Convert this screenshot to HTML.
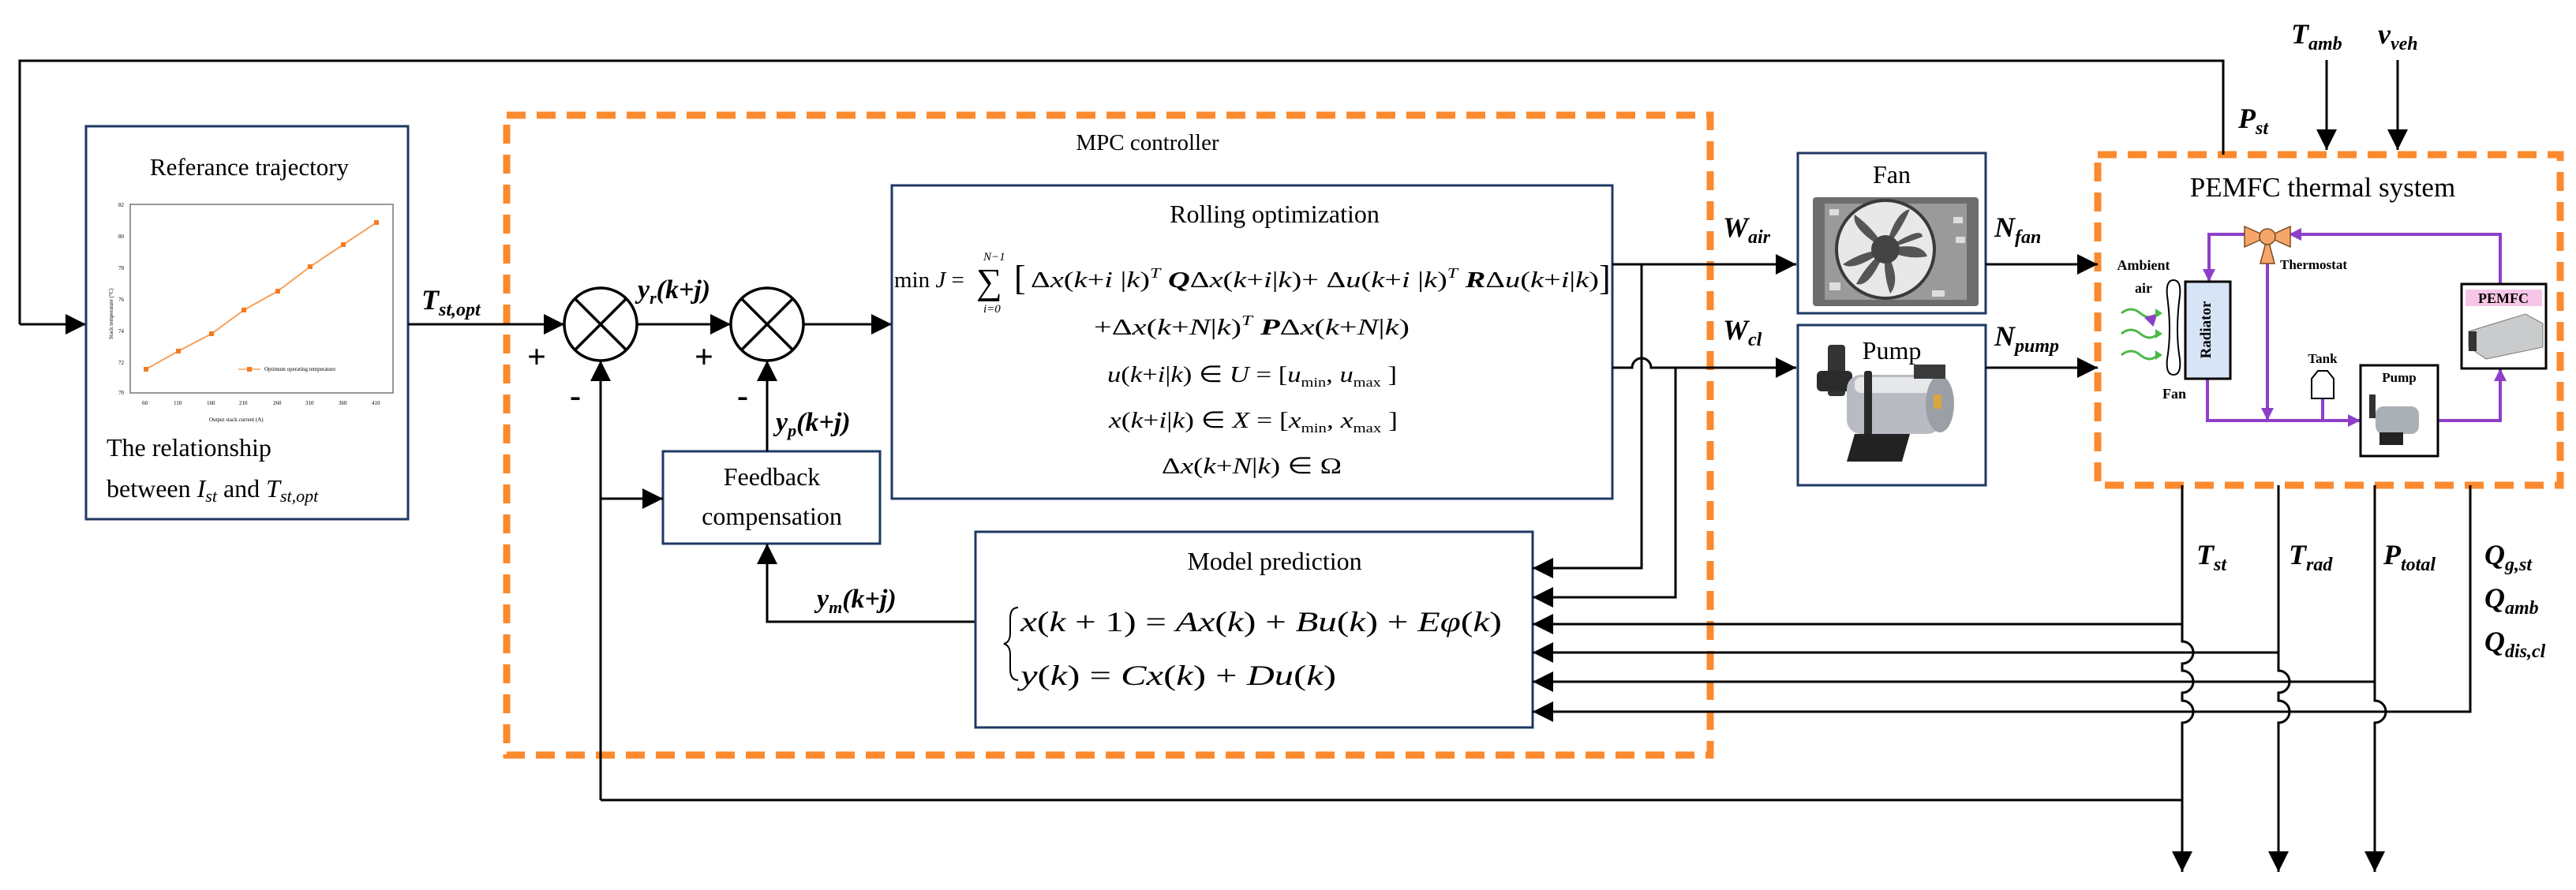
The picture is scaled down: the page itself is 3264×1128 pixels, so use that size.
<!DOCTYPE html>
<html><head><meta charset="utf-8"><style>
html,body{margin:0;padding:0;background:#fff;}
svg{display:block;}
text{font-family:"Liberation Serif",serif;fill:#000;}
.bi{font-weight:bold;font-style:italic;}
.it{font-style:italic;}
</style></head><body>
<svg width="3264" height="1128" viewBox="0 0 3264 1128" xmlns="http://www.w3.org/2000/svg">
<defs>
<marker id="ar" markerWidth="10" markerHeight="10" refX="9" refY="5" orient="auto" markerUnits="userSpaceOnUse" viewBox="0 0 10 10"><path d="M0,0 L10,5 L0,10 z" fill="#000"/></marker>
<marker id="ah" viewBox="0 0 10 10" refX="10" refY="5" markerWidth="26" markerHeight="26" orient="auto" markerUnits="userSpaceOnUse"><path d="M0,0 L10,5 L0,10 z" fill="#000"/></marker>
<marker id="ap" viewBox="0 0 10 10" refX="10" refY="5" markerWidth="16" markerHeight="16" orient="auto" markerUnits="userSpaceOnUse"><path d="M0,0 L10,5 L0,10 z" fill="#8e3fc8"/></marker>
</defs>

<!-- Orange dashed boxes -->
<rect x="642" y="146" width="1525" height="811" fill="none" stroke="#fb8a2e" stroke-width="9" stroke-dasharray="24 14"/>
<rect x="2658" y="196" width="586" height="419" fill="none" stroke="#fb8a2e" stroke-width="9" stroke-dasharray="24 14"/>

<!-- Top feedback line -->
<polyline points="2817,196 2817,77 25,77 25,411" fill="none" stroke="#000" stroke-width="3"/>
<line x1="25" y1="411" x2="109" y2="411" stroke="#000" stroke-width="3" marker-end="url(#ah)"/>

<!-- Reference trajectory box -->
<rect x="109" y="160" width="408" height="498" fill="#fff" stroke="#1f3864" stroke-width="3"/>
<text x="316" y="222" font-size="31" text-anchor="middle">Referance trajectory</text>
<rect x="165" y="259" width="333" height="239" fill="#fff" stroke="#777" stroke-width="1.5"/>
<g font-size="7" fill="#444">
<text x="150" y="262">82</text><text x="150" y="302">80</text><text x="150" y="342">78</text><text x="150" y="382">76</text><text x="150" y="422">74</text><text x="150" y="462">72</text><text x="150" y="500">70</text>
<text x="180" y="513">60</text><text x="220" y="513">110</text><text x="262" y="513">160</text><text x="303" y="513">210</text><text x="346" y="513">260</text><text x="387" y="513">310</text><text x="429" y="513">360</text><text x="471" y="513">410</text>
<text x="265" y="534">Output stack current (A)</text>
<text x="143" y="430" transform="rotate(-90 143 430)">Stack temperature (°C)</text>
<text x="335" y="470">Optimum operating temperature</text>
</g>
<line x1="302" y1="468" x2="330" y2="468" stroke="#f7a15a" stroke-width="1.5"/>
<polyline points="185,468 226,445 268,423 309,393 352,369 393,338 435,310 477,282" fill="none" stroke="#f7a15a" stroke-width="2"/>
<g fill="#f47a20"><rect x="182" y="465" width="6" height="6"/><rect x="223" y="442" width="6" height="6"/><rect x="265" y="420" width="6" height="6"/><rect x="306" y="390" width="6" height="6"/><rect x="349" y="366" width="6" height="6"/><rect x="390" y="335" width="6" height="6"/><rect x="432" y="307" width="6" height="6"/><rect x="474" y="279" width="6" height="6"/><rect x="313" y="465" width="6" height="6"/></g>
<text x="135" y="578" font-size="32">The relationship</text>
<text x="135" y="630" font-size="32">between <tspan class="it">I</tspan><tspan class="it" font-size="22" dy="6">st</tspan><tspan dy="-6"> and </tspan><tspan class="it">T</tspan><tspan class="it" font-size="22" dy="6">st,opt</tspan></text>

<!-- T_st,opt -->
<text x="534" y="392" font-size="36" class="bi">T<tspan font-size="24" dy="8">st,opt</tspan></text>
<line x1="517" y1="411" x2="715" y2="411" stroke="#000" stroke-width="3" marker-end="url(#ah)"/>

<!-- Summing junctions -->
<g fill="#fff" stroke="#000" stroke-width="3.5">
<circle cx="761" cy="411" r="46"/><circle cx="972" cy="411" r="46"/></g>
<g stroke="#000" stroke-width="3.5">
<line x1="728" y1="378" x2="794" y2="444"/><line x1="794" y1="378" x2="728" y2="444"/>
<line x1="939" y1="378" x2="1005" y2="444"/><line x1="1005" y1="378" x2="939" y2="444"/></g>
<text x="668" y="466" font-size="42" font-weight="bold">+</text>
<text x="880" y="466" font-size="42" font-weight="bold">+</text>
<text x="722" y="515" font-size="42" font-weight="bold">-</text>
<text x="934" y="515" font-size="42" font-weight="bold">-</text>
<line x1="807" y1="411" x2="926" y2="411" stroke="#000" stroke-width="3" marker-end="url(#ah)"/>
<text x="808" y="378" font-size="34" class="bi">y<tspan font-size="22" dy="7">r</tspan><tspan dy="-7">(k+j)</tspan></text>
<line x1="1018" y1="411" x2="1130" y2="411" stroke="#000" stroke-width="3" marker-end="url(#ah)"/>

<!-- Feedback compensation -->
<rect x="840" y="572" width="275" height="117" fill="#fff" stroke="#1f3864" stroke-width="3"/>
<text x="978" y="615" font-size="32" text-anchor="middle">Feedback</text>
<text x="978" y="665" font-size="32" text-anchor="middle">compensation</text>
<line x1="972" y1="572" x2="972" y2="457" stroke="#000" stroke-width="3" marker-end="url(#ah)"/>
<text x="983" y="546" font-size="34" class="bi">y<tspan font-size="22" dy="7">p</tspan><tspan dy="-7">(k+j)</tspan></text>
<line x1="761" y1="1014" x2="761" y2="457" stroke="#000" stroke-width="3" marker-end="url(#ah)"/>
<line x1="761" y1="632" x2="840" y2="632" stroke="#000" stroke-width="3" marker-end="url(#ah)"/>
<polyline points="1236,788 972,788 972,689" fill="none" stroke="#000" stroke-width="3" marker-end="url(#ah)"/>
<text x="1035" y="770" font-size="34" class="bi">y<tspan font-size="22" dy="7">m</tspan><tspan dy="-7">(k+j)</tspan></text>

<!-- MPC label -->
<text x="1454" y="190" font-size="29" text-anchor="middle">MPC controller</text>

<!-- Rolling optimization -->
<rect x="1130" y="235" width="913" height="397" fill="#fff" stroke="#1f3864" stroke-width="3"/>
<text x="1615" y="282" font-size="32" text-anchor="middle">Rolling  optimization</text>
<g font-size="29">
<text x="1133" y="364">min <tspan class="it">J</tspan> =</text>
<text x="1237" y="372" font-size="46">∑</text>
<text x="1246" y="330" font-size="15" class="it">N−1</text>
<text x="1246" y="396" font-size="15" class="it">i=0</text>
<text x="1285" y="367" font-size="44" font-weight="100">[</text>
<text x="1306" y="364" textLength="720" lengthAdjust="spacingAndGlyphs">Δ<tspan class="it">x</tspan>(<tspan class="it">k</tspan>+<tspan class="it">i</tspan> |<tspan class="it">k</tspan>)<tspan class="it" font-size="18" dy="-12">T</tspan><tspan class="bi" dy="12"> Q</tspan>Δ<tspan class="it">x</tspan>(<tspan class="it">k</tspan>+<tspan class="it">i</tspan>|<tspan class="it">k</tspan>)+ Δ<tspan class="it">u</tspan>(<tspan class="it">k</tspan>+<tspan class="it">i</tspan> |<tspan class="it">k</tspan>)<tspan class="it" font-size="18" dy="-12">T</tspan><tspan class="bi" dy="12"> R</tspan>Δ<tspan class="it">u</tspan>(<tspan class="it">k</tspan>+<tspan class="it">i</tspan>|<tspan class="it">k</tspan>)</text>
<text x="2026" y="367" font-size="44" font-weight="100">]</text>
<text x="1386" y="424" textLength="400" lengthAdjust="spacingAndGlyphs">+Δ<tspan class="it">x</tspan>(<tspan class="it">k</tspan>+<tspan class="it">N</tspan>|<tspan class="it">k</tspan>)<tspan class="it" font-size="18" dy="-12">T</tspan><tspan class="bi" dy="12"> P</tspan>Δ<tspan class="it">x</tspan>(<tspan class="it">k</tspan>+<tspan class="it">N</tspan>|<tspan class="it">k</tspan>)</text>
<text x="1403" y="484" textLength="367" lengthAdjust="spacingAndGlyphs"><tspan class="it">u</tspan>(<tspan class="it">k</tspan>+<tspan class="it">i</tspan>|<tspan class="it">k</tspan>) ∈ <tspan class="it">U</tspan> = [<tspan class="it">u</tspan><tspan font-size="17" dy="6">min</tspan><tspan dy="-6">, </tspan><tspan class="it">u</tspan><tspan font-size="17" dy="6">max</tspan><tspan dy="-6"> ]</tspan></text>
<text x="1405" y="542" textLength="366" lengthAdjust="spacingAndGlyphs"><tspan class="it">x</tspan>(<tspan class="it">k</tspan>+<tspan class="it">i</tspan>|<tspan class="it">k</tspan>) ∈ <tspan class="it">X</tspan> = [<tspan class="it">x</tspan><tspan font-size="17" dy="6">min</tspan><tspan dy="-6">, </tspan><tspan class="it">x</tspan><tspan font-size="17" dy="6">max</tspan><tspan dy="-6"> ]</tspan></text>
<text x="1472" y="600" textLength="228" lengthAdjust="spacingAndGlyphs">Δ<tspan class="it">x</tspan>(<tspan class="it">k</tspan>+<tspan class="it">N</tspan>|<tspan class="it">k</tspan>) ∈ Ω</text>
</g>

<!-- Model prediction -->
<rect x="1236" y="674" width="706" height="248" fill="#fff" stroke="#1f3864" stroke-width="3"/>
<text x="1615" y="722" font-size="32" text-anchor="middle">Model prediction</text>
<path d="M1290,770 q-10,0 -10,14 v18 q0,12 -8,14 q8,2 8,14 v18 q0,14 10,14" fill="none" stroke="#000" stroke-width="2"/>
<text x="1293" y="800" font-size="36" textLength="610" lengthAdjust="spacingAndGlyphs"><tspan class="it">x</tspan>(<tspan class="it">k</tspan> + 1) = <tspan class="it">Ax</tspan>(<tspan class="it">k</tspan>) + <tspan class="it">Bu</tspan>(<tspan class="it">k</tspan>) + <tspan class="it">Eφ</tspan>(<tspan class="it">k</tspan>)</text>
<text x="1293" y="868" font-size="36" textLength="400" lengthAdjust="spacingAndGlyphs"><tspan class="it">y</tspan>(<tspan class="it">k</tspan>) = <tspan class="it">Cx</tspan>(<tspan class="it">k</tspan>) + <tspan class="it">Du</tspan>(<tspan class="it">k</tspan>)</text>

<!-- Rolling outputs -->
<line x1="2043" y1="335" x2="2276" y2="335" stroke="#000" stroke-width="3" marker-end="url(#ah)"/>
<path d="M2043,466 H2068 A12,12 0 0 1 2092,466 H2276" fill="none" stroke="#000" stroke-width="3" marker-end="url(#ah)"/>
<polyline points="2080,335 2080,720 1942,720" fill="none" stroke="#000" stroke-width="3" marker-end="url(#ah)"/>
<polyline points="2123,466 2123,757 1942,757" fill="none" stroke="#000" stroke-width="3" marker-end="url(#ah)"/>
<text x="2183" y="300" font-size="36" class="bi">W<tspan font-size="24" dy="8">air</tspan></text>
<text x="2183" y="430" font-size="36" class="bi">W<tspan font-size="24" dy="8">cl</tspan></text>

<!-- Fan box -->
<rect x="2278" y="194" width="238" height="203" fill="#fff" stroke="#1f3864" stroke-width="3"/>
<text x="2397" y="232" font-size="32" text-anchor="middle">Fan</text>
<rect x="2297" y="250" width="210" height="138" fill="#6d6d6d" rx="4"/>
<rect x="2312" y="258" width="180" height="122" fill="#9a9a9a"/>
<circle cx="2389" cy="316" r="62" fill="#e8e8e8" stroke="#3a3a3a" stroke-width="4"/>
<g fill="#555">
<path d="M2389,316 Q2400,270 2420,265 Q2410,290 2389,316z"/>
<path d="M2389,316 Q2435,305 2442,325 Q2415,330 2389,316z"/>
<path d="M2389,316 Q2410,355 2395,372 Q2385,345 2389,316z"/>
<path d="M2389,316 Q2350,345 2335,335 Q2360,318 2389,316z"/>
<path d="M2389,316 Q2345,290 2350,272 Q2375,290 2389,316z"/>
<path d="M2389,316 Q2370,365 2352,360 Q2365,335 2389,316z"/>
<path d="M2389,316 Q2435,285 2436,300 Q2410,310 2389,316z"/>
</g>
<circle cx="2389" cy="316" r="18" fill="#444"/>
<g fill="#ddd"><rect x="2318" y="265" width="12" height="8"/><rect x="2475" y="275" width="12" height="8"/><rect x="2478" y="300" width="12" height="8"/><rect x="2318" y="358" width="14" height="10"/><rect x="2448" y="368" width="16" height="8"/></g>

<!-- Pump box -->
<rect x="2278" y="412" width="238" height="203" fill="#fff" stroke="#1f3864" stroke-width="3"/>
<text x="2397" y="455" font-size="32" text-anchor="middle">Pump</text>
<rect x="2316" y="437" width="22" height="65" fill="#333" rx="4"/>
<rect x="2302" y="470" width="45" height="26" fill="#2b2b2b" rx="6"/>
<rect x="2340" y="475" width="120" height="75" fill="#b8bcc2" rx="18"/>
<rect x="2350" y="478" width="100" height="20" fill="#e6e8ea" rx="8"/>
<rect x="2362" y="470" width="10" height="88" fill="#2a2a2a" rx="3"/>
<ellipse cx="2458" cy="512" rx="18" ry="36" fill="#9aa0a6"/>
<rect x="2450" y="500" width="10" height="18" fill="#d9a441"/>
<polygon points="2350,550 2420,550 2410,585 2340,585" fill="#222"/>
<rect x="2425" y="462" width="40" height="18" fill="#3a3a3a"/>

<!-- Fan/pump to PEMFC -->
<line x1="2516" y1="335" x2="2658" y2="335" stroke="#000" stroke-width="3" marker-end="url(#ah)"/>
<line x1="2516" y1="466" x2="2658" y2="466" stroke="#000" stroke-width="3" marker-end="url(#ah)"/>
<text x="2527" y="300" font-size="36" class="bi">N<tspan font-size="24" dy="8">fan</tspan></text>
<text x="2527" y="438" font-size="36" class="bi">N<tspan font-size="24" dy="8">pump</tspan></text>

<!-- External inputs -->
<text x="2903" y="55" font-size="36" class="bi">T<tspan font-size="24" dy="8">amb</tspan></text>
<text x="3013" y="55" font-size="36" class="bi">v<tspan font-size="24" dy="8">veh</tspan></text>
<line x1="2948" y1="76" x2="2948" y2="190" stroke="#000" stroke-width="3" marker-end="url(#ah)"/>
<line x1="3038" y1="76" x2="3038" y2="190" stroke="#000" stroke-width="3" marker-end="url(#ah)"/>
<text x="2836" y="162" font-size="36" class="bi">P<tspan font-size="24" dy="8">st</tspan></text>

<!-- PEMFC thermal system internals -->
<text x="2943" y="249" font-size="35" text-anchor="middle">PEMFC thermal  system</text>
<g stroke="#8e3fc8" stroke-width="4" fill="none">
<polyline points="3168,360 3168,297 2905,297"/>
<line x1="2990" y1="297" x2="2900" y2="297" marker-end="url(#ap)"/>
<polyline points="2850,297 2799,297 2799,357" marker-end="url(#ap)"/>
<line x1="2873" y1="330" x2="2873" y2="533" marker-end="url(#ap)"/>
<polyline points="2797,480 2797,533 2991,533" marker-end="url(#ap)"/>
<line x1="2943" y1="505" x2="2943" y2="533"/>
<polyline points="3089,533 3168,533 3168,467" marker-end="url(#ap)"/>
</g>
<!-- thermostat valve -->
<g fill="#f7a66a" stroke="#7a4a20" stroke-width="1.5">
<polygon points="2844,287 2844,313 2873,300"/>
<polygon points="2902,287 2902,313 2873,300"/>
<polygon points="2864,334 2882,334 2873,300"/>
<circle cx="2873" cy="300" r="10"/>
</g>
<text x="2889" y="341" font-size="17" font-weight="bold">Thermostat</text>
<text x="2716" y="342" font-size="18" font-weight="bold" text-anchor="middle">Ambient</text>
<text x="2716" y="371" font-size="18" font-weight="bold" text-anchor="middle">air</text>
<g stroke="#4cb848" stroke-width="3" fill="none">
<path d="M2688,397 q12,-10 24,0 t22,0" marker-end="url(#ap)"/>
<path d="M2688,423 q12,-10 24,0 t22,0"/>
<path d="M2688,450 q12,-10 24,0 t22,0"/>
</g>
<g fill="#4cb848"><polygon points="2740,397 2731,391 2731,403"/><polygon points="2740,423 2731,417 2731,429"/><polygon points="2740,450 2731,444 2731,456"/></g>
<path d="M2754,355 q10,0 8,20 q-6,45 0,80 q2,20 -8,20 q-10,0 -8,-20 q6,-35 0,-80 q-2,-20 8,-20z" fill="#fff" stroke="#000" stroke-width="2"/>
<text x="2755" y="505" font-size="18" font-weight="bold" text-anchor="middle">Fan</text>
<rect x="2769" y="357" width="57" height="123" fill="#d6e4f5" stroke="#000" stroke-width="3"/>
<text x="2803" y="418" font-size="19" font-weight="bold" text-anchor="middle" transform="rotate(-90 2803 418)" dy="-2">Radiator</text>
<text x="2943" y="460" font-size="17" font-weight="bold" text-anchor="middle">Tank</text>
<path d="M2929,505 v-25 l8,-10 h12 l8,10 v25z" fill="#fff" stroke="#000" stroke-width="2"/>
<rect x="2991" y="463" width="98" height="115" fill="#fff" stroke="#000" stroke-width="3"/>
<text x="3040" y="484" font-size="17" font-weight="bold" text-anchor="middle">Pump</text>
<rect x="3002" y="500" width="8" height="30" fill="#333"/>
<rect x="3010" y="515" width="55" height="35" fill="#aab0b6" rx="10"/>
<rect x="3015" y="548" width="30" height="16" fill="#222"/>
<rect x="3119" y="360" width="107" height="107" fill="#fff" stroke="#000" stroke-width="3"/>
<rect x="3124" y="367" width="97" height="21" fill="#f7c6e6"/>
<text x="3172" y="384" font-size="18" font-weight="bold" text-anchor="middle">PEMFC</text>
<polygon points="3128,420 3200,398 3222,410 3222,440 3150,455 3128,440" fill="#c9cbcd" stroke="#777"/>
<rect x="3128" y="420" width="10" height="25" fill="#333"/>

<!-- Measured outputs -->
<g stroke="#000" stroke-width="3" fill="none">
<path d="M2765,615 V791 H1942" marker-end="url(#ah)"/>
<path d="M2887,615 V827 H1942" marker-end="url(#ah)"/>
<path d="M3009,615 V864 H1942" marker-end="url(#ah)"/>
<path d="M3130,615 V902 H1942" marker-end="url(#ah)"/>
<!-- T_st downward with hops -->
<path d="M2765,791 V813 A14,14 0 0 1 2765,841 V850 A14,14 0 0 1 2765,878 V888 A14,14 0 0 1 2765,916 V1105" marker-end="url(#ah)"/>
<path d="M2887,827 V850 A14,14 0 0 1 2887,878 V888 A14,14 0 0 1 2887,916 V1105" marker-end="url(#ah)"/>
<path d="M3009,864 V888 A14,14 0 0 1 3009,916 V1105" marker-end="url(#ah)"/>
<line x1="761" y1="1014" x2="2765" y2="1014"/>
</g>
<text x="2783" y="715" font-size="36" class="bi">T<tspan font-size="24" dy="8">st</tspan></text>
<text x="2900" y="715" font-size="36" class="bi">T<tspan font-size="24" dy="8">rad</tspan></text>
<text x="3020" y="715" font-size="36" class="bi">P<tspan font-size="24" dy="8">total</tspan></text>
<text x="3148" y="715" font-size="36" class="bi">Q<tspan font-size="24" dy="8">g,st</tspan></text>
<text x="3148" y="770" font-size="36" class="bi">Q<tspan font-size="24" dy="8">amb</tspan></text>
<text x="3148" y="825" font-size="36" class="bi">Q<tspan font-size="24" dy="8">dis,cl</tspan></text>
</svg>
</body></html>
